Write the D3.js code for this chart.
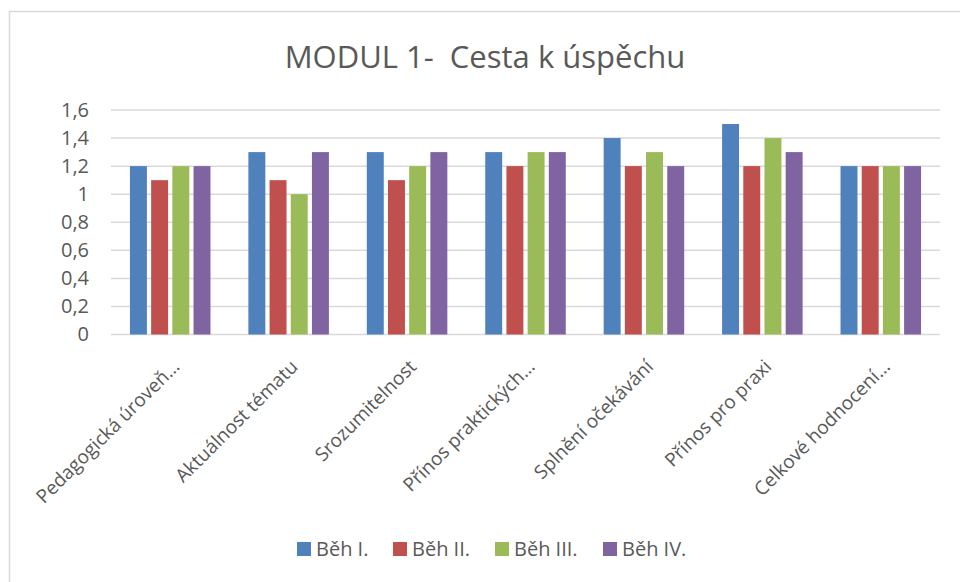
<!DOCTYPE html>
<html>
<head>
<meta charset="utf-8">
<script src="https://cdn.jsdelivr.net/npm/d3@7"></script>
<style>
  body { margin: 0; background: #fff; }
  text { font-family: "Open Sans", "Noto Sans", sans-serif; fill: #595959; }
</style>
</head>
<body>
<svg id="chart" width="960" height="582"></svg>
<script>
const categories = ["Pedagogická úroveň…", "Aktuálnost tématu", "Srozumitelnost", "Přínos praktických…", "Splnění očekávání", "Přínos pro praxi", "Celkové hodnocení…"];
const seriesNames = ["Běh I.", "Běh II.", "Běh III.", "Běh IV."];
const beh1 = [1.2, 1.3, 1.3, 1.3, 1.4, 1.5, 1.2];
const beh2 = [1.1, 1.1, 1.1, 1.2, 1.2, 1.2, 1.2];
const beh3 = [1.2, 1.0, 1.2, 1.3, 1.3, 1.4, 1.2];
const beh4 = [1.2, 1.3, 1.3, 1.3, 1.2, 1.3, 1.2];
const yTicks = [0, 0.2, 0.4, 0.6, 0.8, 1, 1.2, 1.4, 1.6];
const colors = ["#4f81bd", "#c0504d", "#9bbb59", "#8064a2"];

const series = [beh1, beh2, beh3, beh4];

function draw() {
  var svg = d3.select("#chart");

  // outer frame
  svg.append("rect")
      .attr("x", 9.5).attr("y", 11.5)
      .attr("width", 960).attr("height", 600)
      .attr("fill", "none")
      .attr("stroke", "#d9d9d9")
      .attr("stroke-width", 1.5);

  svg.append("text")
      .attr("x", 485).attr("y", 68)
      .attr("text-anchor", "middle")
      .style("font-size", "31px")
      .style("white-space", "pre")
      .text("MODUL 1-  Cesta k úspěchu");

  var pLeft = 111, pRight = 940, pTop = 110, pBottom = 334.5;

  var x = d3.scaleBand().domain(categories).range([pLeft, pRight]).paddingInner(0.32).paddingOuter(0.16);
  var xs = d3.scaleBand().domain(d3.range(series.length)).range([0, x.bandwidth()]).paddingInner(0.2);
  var y = d3.scaleLinear().domain([0, 1.6]).range([pBottom, pTop]);

  var fmt = function(d) { return String(d).replace(".", ","); };

  // gridlines
  svg.append("g")
    .selectAll("line")
    .data(yTicks)
    .enter().append("line")
      .attr("x1", pLeft).attr("x2", pRight)
      .attr("y1", function(d) { return y(d); })
      .attr("y2", function(d) { return y(d); })
      .attr("stroke", "#d9d9d9")
      .attr("stroke-width", 1.5);

  var yAxis = svg.append("g")
      .attr("transform", "translate(" + (pLeft - 22) + ",0)")
      .call(d3.axisLeft(y).tickValues(yTicks).tickFormat(fmt).tickSize(0));
  yAxis.select(".domain").remove();
  yAxis.selectAll("text")
      .attr("x", 0)
      .style("font-size", "20px")
      .style("font-family", "'Open Sans', sans-serif")
      .attr("fill", "#595959");

  // bars
  series.forEach(function(vals, si) {
    svg.append("g")
      .selectAll("rect")
      .data(vals)
      .enter().append("rect")
        .attr("x", function(d, i) { return x(categories[i]) + xs(si); })
        .attr("y", function(d) { return y(d); })
        .attr("width", xs.bandwidth())
        .attr("height", function(d) { return pBottom - y(d); })
        .attr("fill", colors[si]);
  });

  // category labels
  svg.append("g")
    .selectAll("text")
    .data(categories)
    .enter().append("text")
      .attr("text-anchor", "end")
      .attr("transform", function(d) {
        return "translate(" + (x(d) + x.bandwidth() / 2 + 1) + "," + (pBottom + 24) + ") rotate(-45)";
      })
      .attr("dy", "0.7em")
      .style("font-size", "19px")
      .text(function(d) { return d; });

  // legend
  var legendX = [297, 393, 495, 603];
  var legend = svg.append("g")
    .selectAll("g")
    .data(seriesNames)
    .enter().append("g")
      .attr("transform", function(d, i) { return "translate(" + legendX[i] + ",542)"; });
  legend.append("rect")
      .attr("width", 14).attr("height", 14)
      .attr("fill", function(d, i) { return colors[i]; });
  legend.append("text")
      .attr("x", 19).attr("y", 14)
      .style("font-size", "20px")
      .text(function(d) { return d; });
}
draw();
</script>
</body>
</html>
